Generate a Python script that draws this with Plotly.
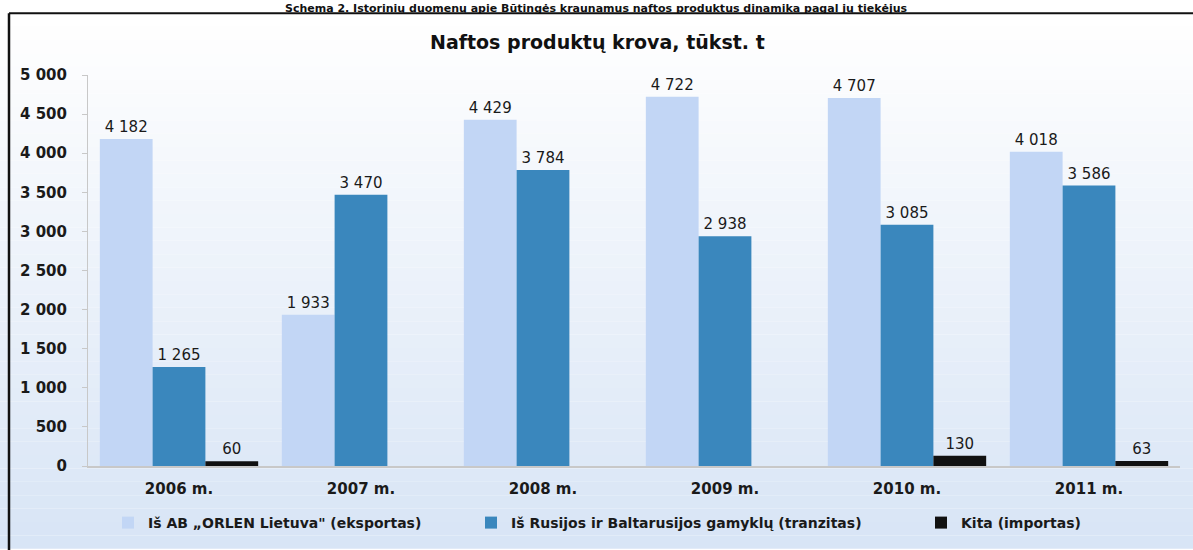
import plotly.graph_objects as go

years = ["2006 m.", "2007 m.", "2008 m.", "2009 m.", "2010 m.", "2011 m."]
orlen = [4182, 1933, 4429, 4722, 4707, 4018]
tranzitas = [1265, 3470, 3784, 2938, 3085, 3586]
kita = [60, None, None, None, 130, 63]

names = ['Iš AB „ORLEN Lietuva" (eksportas)',
         "Iš Rusijos ir Baltarusijos gamyklų (tranzitas)",
         "Kita (importas)"]
colors = ["#c2d6f5", "#3a87bd", "#111111"]
legend_x = [108, 471, 921]

W, H = 1193, 550
L, R, T, B = 88, 13, 75, 83
pw, ph = W - L - R, H - T - B


def px(x):
    return (x - L) / pw


def py(y):
    return (H - B - y) / ph


fig = go.Figure()
for i, (vals, name, col) in enumerate(zip([orlen, tranzitas, kita], names, colors)):
    fig.add_trace(go.Bar(
        x=years, y=vals, name=name, marker=dict(color=col, line=dict(width=0)),
        texttemplate="%{y:,}", textposition="outside", cliponaxis=False,
        textfont=dict(family="DejaVu Sans", size=15, color="#1a1a1a"),
        legend="legend" if i == 0 else f"legend{i + 1}",
    ))

# paper background: white at top fading to light blue
shapes = []
n = 40
for i in range(n):
    f = i / (n - 1)
    r = int(255 + (216 - 255) * f)
    g = int(255 + (229 - 255) * f)
    b = int(255 + (246 - 255) * f)
    shapes.append(dict(type="rect", xref="paper", yref="paper", layer="below",
                       x0=px(0), x1=px(W), y0=py(13 + (H - 13) * (i + 1) / n),
                       y1=py(13 + (H - 13) * i / n),
                       line=dict(width=0), fillcolor=f"rgb({r},{g},{b})"))
# frame
shapes.append(dict(type="line", xref="paper", yref="paper", x0=px(9), x1=px(W),
                   y0=py(13), y1=py(13), line=dict(color="#111", width=2)))
shapes.append(dict(type="line", xref="paper", yref="paper", x0=px(9), x1=px(9),
                   y0=py(13), y1=py(H + 5), line=dict(color="#111", width=2.5)))

leg = dict(orientation="h", xanchor="left", y=py(523), yanchor="middle",
           font=dict(size=14, family="DejaVu Sans", weight="bold", color="#1a1a1a"),
           bgcolor="rgba(0,0,0,0)", itemwidth=30)

fig.update_layout(
    width=W, height=H, margin=dict(l=L, r=R, t=T, b=B),
    paper_bgcolor="white", plot_bgcolor="rgba(0,0,0,0)",
    separators=", ", barmode="group", bargap=0.13, bargroupgap=0,
    font=dict(family="DejaVu Sans", color="#1a1a1a"),
    shapes=shapes,
    showlegend=True,
    legend=dict(leg, x=px(legend_x[0])),
    legend2=dict(leg, x=px(legend_x[1])),
    legend3=dict(leg, x=px(legend_x[2])),
    annotations=[
        dict(text="<b>Naftos produktų krova, tūkst. t</b>", xref="paper", yref="paper",
             x=px(597), y=py(42), xanchor="center", yanchor="middle", showarrow=False,
             font=dict(size=19, color="#111", family="DejaVu Sans")),
        dict(text="<b>Schema 2. Istorinių duomenų apie Būtingės kraunamus naftos produktus dinamika pagal jų tiekėjus</b>",
             xref="paper", yref="paper", x=px(596), y=py(0), xanchor="center", yanchor="top",
             showarrow=False, font=dict(size=11, color="#111", family="DejaVu Sans")),
    ],
)
fig.update_yaxes(range=[0, 5000], dtick=500, tickformat=",d", showgrid=False,
                 showline=True, linecolor="#c8c8c8", linewidth=1,
                 ticks="outside", ticklen=5, tickcolor="#c8c8c8",
                 ticklabelstandoff=12,
                 tickfont=dict(size=15, weight="bold", color="#1a1a1a"), zeroline=False)
fig.update_xaxes(showline=True, linecolor="#c8c8c8", linewidth=1.5, showgrid=False,
                 ticks="", ticklabelstandoff=8,
                 tickfont=dict(size=15, weight="bold", color="#1a1a1a"))

fig.write_html("out.html", config={"displayModeBar": False},
               post_script="document.body.style.margin='0';")
